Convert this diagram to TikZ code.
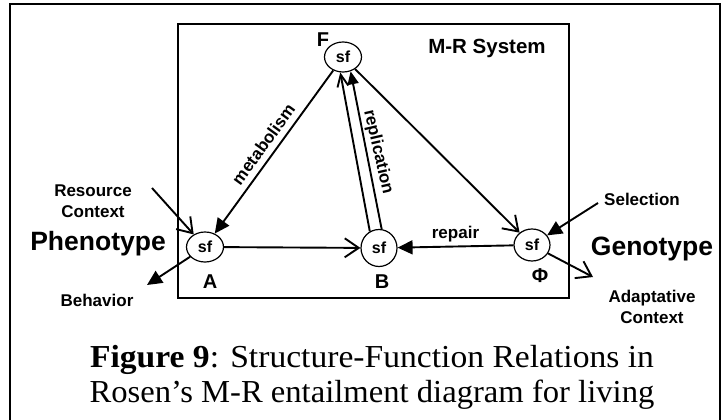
\documentclass[tikz,border=0pt]{standalone}
\usepackage{fontspec}
\setmainfont{Liberation Serif}
\newfontfamily\arialf{Liberation Sans}
\usetikzlibrary{arrows.meta,shapes.geometric}
\begin{document}
\begin{tikzpicture}[x=1pt,y=-1pt,
  sfnode/.style={draw,ellipse,line width=1.2pt,minimum width=37pt,minimum height=30pt,inner sep=0pt,font=\arialf\bfseries\fontsize{16}{16}\selectfont},
  lbl/.style={font=\arialf\bfseries\fontsize{17}{21}\selectfont,inner sep=0pt,align=center},
  big/.style={font=\arialf\bfseries\fontsize{26.5}{28}\selectfont,inner sep=0pt},
  letter/.style={font=\arialf\bfseries\fontsize{20}{20}\selectfont,inner sep=0pt},
  conn/.style={line width=1.9pt},
  filled/.style={conn,-{Triangle[length=15pt,width=14pt]}},
  barb/.style={conn,-{Straight Barb[length=14pt,width=19pt]}},
  smallbarb/.style={conn,-{Straight Barb[length=12pt,width=11pt]}},
  captext/.style={font=\fontsize{32}{36}\selectfont,inner sep=0pt,anchor=base}
]
\useasboundingbox[fill=white] (0,0) rectangle (725,420);
% outer frame
\draw[line width=1.6pt] (10,440) -- (10,4) -- (720,4) -- (720,440);
% inner box
\draw[line width=1.6pt] (178,24) rectangle (569,298);
\node[lbl,font=\arialf\bfseries\fontsize{20.5}{20}\selectfont] (sys) at (487,48) {M-R System};

% sf nodes
\node[sfnode] (F) at (343,57) {sf};
\node[sfnode] (A) at (205,247) {sf};
\node[sfnode,minimum height=37pt,minimum width=36pt] (B) at (379,248) {sf};
\node[sfnode,minimum height=32pt,minimum width=36pt] (P) at (532,245) {sf};

% letters
\node[letter] (Fl) at (323,40) {F};
\node[letter] (Al) at (210,282) {A};
\node[letter] (Bl) at (382,282) {B};
\node[letter] (Pl) at (540,276) {Φ};

% side labels
\node[big] (phen) at (98,244) {Phenotype};
\node[big] (gen) at (652,249) {Genotype};
\node[lbl] (res) at (93,201) {Resource\\Context};
\node[lbl] (beh) at (97,300) {Behavior};
\node[lbl] (sel) at (642,199) {Selection};
\node[lbl] (adp) at (652,307) {Adaptative\\Context};

% free ends
\coordinate (resS) at (152,188);
\coordinate (behE) at (147,285);
\coordinate (selS) at (598,203);
\coordinate (adpE) at (593,277);

% connectors
\draw[filled] (F) -- (A) node[midway,sloped,above=6pt,lbl,inner sep=0pt] (met) {metabolism};
\draw[barb] (A) -- (B);
\draw[smallbarb] (B.119) -- (F.-100);
\draw[filled,-{Triangle[length=13pt,width=11pt]}] (B.82) -- (F.-62);
\node[lbl,rotate=-77] (rep) at (378,152) {replication};
\draw[barb] (F) -- (P);
\draw[filled] (P) -- (B) node[midway,above=4pt,lbl] (rpr) {repair};
\draw[barb] (resS) -- (A);
\draw[filled] (selS) -- (P);
\draw[filled] (A) -- (behE);
\draw[barb] (P) -- (adpE);

% caption
\node[captext] (c1) at (372,367) {\scalebox{1.05}[1]{\textbf{Figure 9}: Structure-Function Relations in}};
\node[captext] (c2) at (372,402) {\scalebox{1.02}[1]{Rosen’s M-R entailment diagram for living}};
\end{tikzpicture}
\end{document}
